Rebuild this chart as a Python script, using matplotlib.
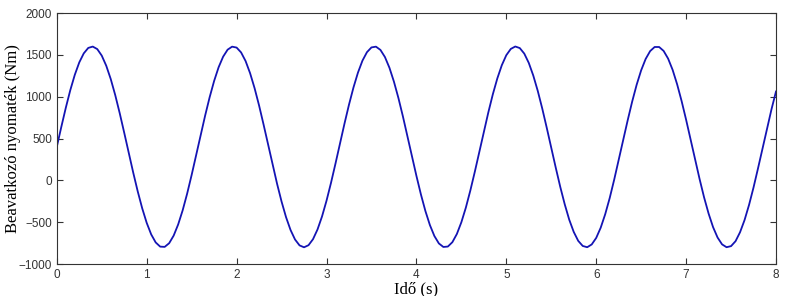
import numpy as np
import matplotlib.pyplot as plt

# ido (s), 0.05 s lepes, 0..8 s
t = np.arange(161) * 0.05
# beavatkozo nyomatek (Nm), a kepről leolvasva
nyomatek = [
    400, 638, 867, 1078, 1261, 1410, 1518, 1583, 1599, 1569,
    1491, 1370, 1211, 1019, 802, 569, 330, 93, -131, -334,
    -508, -646, -742, -792, -795, -751, -660, -527, -358, -158,
    65, 300, 540, 774, 993, 1188, 1352, 1478, 1562, 1598,
    1587, 1529, 1426, 1281, 1102, 895, 667, 430, 191, -40,
    -253, -440, -593, -707, -777, -800, -775, -703, -587, -432,
    -244, -30, 201, 440, 678, 904, 1110, 1288, 1431, 1532,
    1589, 1598, 1559, 1474, 1346, 1180, 984, 764, 529, 290,
    55, -167, -366, -534, -665, -754, -796, -791, -739, -641,
    -501, -326, -121, 104, 341, 580, 812, 1028, 1218, 1376,
    1496, 1571, 1600, 1581, 1515, 1404, 1253, 1069, 858, 628,
    389, 152, -77, -286, -470, -616, -723, -784, -799, -766,
    -688, -566, -405, -212, 8, 242, 481, 717, 941, 1143,
    1315, 1451, 1545, 1594, 1594, 1547, 1455, 1321, 1149, 948,
    725, 489, 250, 16, -203, -396, -559, -683, -765, -799,
    -786, -727, -620, -475, -294, -85, 144, 381, 620, 850,
    1062,
]
xticks = [0, 1, 2, 3, 4, 5, 6, 7, 8]
yticks = [-1000, -500, 0, 500, 1000, 1500, 2000]

plt.rcParams['font.family'] = ['Liberation Sans', 'DejaVu Sans']

fig = plt.figure(figsize=(8, 2.96), dpi=100)
ax = fig.add_axes([0.071, 0.108, 0.899, 0.848])
ax.plot(t, nyomatek, color='#1414b4', linewidth=1.3)

ax.set_xlim(0, 8)
ax.set_ylim(-1000, 2000)
ax.set_xticks(xticks)
ax.set_yticks(yticks)
ax.tick_params(direction='in', top=True, right=True, length=4.5,
               width=0.8, labelsize=8.5, colors='#333333')
for s in ax.spines.values():
    s.set_color('#333333')
    s.set_linewidth(0.8)

ax.set_xlabel('Idő (s)', family=['Liberation Serif', 'DejaVu Serif'],
              fontsize=12, labelpad=0)
ax.set_ylabel('Beavatkozó nyomaték (Nm)', family=['Liberation Serif', 'DejaVu Serif'],
              fontsize=12)
ax.yaxis.set_label_coords(-0.05, 0.5)

fig.savefig('out.png', dpi=100)
